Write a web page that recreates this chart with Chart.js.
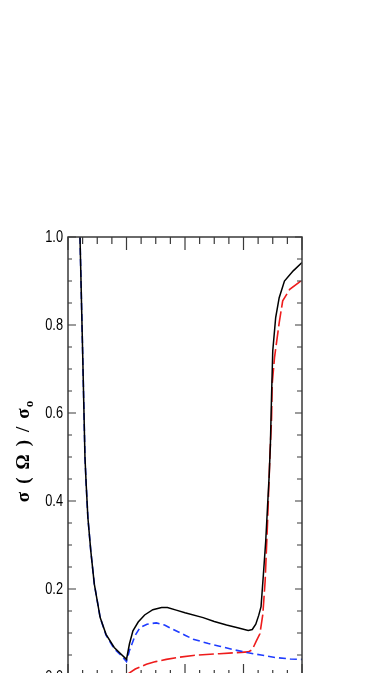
<!DOCTYPE html>
<html>
<head>
<meta charset="utf-8">
<script src="https://cdn.jsdelivr.net/npm/chart.js@4/dist/chart.umd.min.js"></script>
<style>
  html, body { margin: 0; padding: 0; background: #fff; overflow: hidden; }
  #wrap { position: relative; width: 375px; height: 700px; }
</style>
</head>
<body>
<div id="wrap"><canvas id="c"></canvas></div>
<script>
// ---- data ----
const yTickValues = [0, 0.2, 0.4, 0.6, 0.8, 1.0];

const xBlack = [0.205, 0.25, 0.29, 0.31, 0.34, 0.39, 0.45, 0.55, 0.65, 0.79, 0.9, 1.0, 1.05, 1.11, 1.2, 1.31, 1.45, 1.6, 1.7, 1.85, 2.0, 2.31, 2.5, 2.71, 2.9, 3.08, 3.15, 3.21, 3.26, 3.30, 3.34, 3.38, 3.41, 3.44, 3.46, 3.48, 3.50, 3.55, 3.61, 3.70, 3.85, 4.0];
const yBlack = [1.0, 0.74, 0.50, 0.44, 0.362, 0.286, 0.211, 0.135, 0.097, 0.067, 0.053, 0.040, 0.075, 0.105, 0.125, 0.141, 0.153, 0.158, 0.158, 0.152, 0.146, 0.135, 0.126, 0.118, 0.112, 0.106, 0.108, 0.120, 0.140, 0.160, 0.233, 0.309, 0.385, 0.461, 0.53, 0.642, 0.741, 0.817, 0.862, 0.900, 0.923, 0.942];

const xBlue = [0.205, 0.25, 0.29, 0.31, 0.34, 0.39, 0.45, 0.55, 0.65, 0.79, 0.9, 1.0, 1.05, 1.09, 1.15, 1.23, 1.35, 1.51, 1.65, 1.8, 2.0, 2.14, 2.4, 2.59, 2.8, 3.08, 3.3, 3.56, 3.8, 4.0];
const yBlue = [1.0, 0.74, 0.50, 0.44, 0.362, 0.286, 0.211, 0.135, 0.095, 0.064, 0.050, 0.035, 0.060, 0.074, 0.095, 0.112, 0.120, 0.123, 0.118, 0.108, 0.095, 0.086, 0.076, 0.070, 0.063, 0.055, 0.050, 0.044, 0.041, 0.040];

const xRed = [1.0, 1.15, 1.34, 1.5, 1.68, 1.9, 2.14, 2.59, 3.08, 3.15, 3.22, 3.28, 3.33, 3.37, 3.41, 3.45, 3.48, 3.49, 3.53, 3.61, 3.67, 3.79, 3.98, 4.0];
const yRed = [0.005, 0.018, 0.029, 0.035, 0.040, 0.045, 0.049, 0.053, 0.057, 0.062, 0.082, 0.098, 0.142, 0.218, 0.347, 0.498, 0.589, 0.665, 0.726, 0.805, 0.855, 0.881, 0.900, 0.902];

const yTitleParts = ['σ', '(', 'Ω', ')', '/', 'σ'];
const yTitleSub = 'o';

function pts(xs, ys) { return xs.map((x, i) => ({ x: x, y: ys[i] })); }

const framePlugin = {
  id: 'frame',
  afterDraw(chart) {
    const ctx = chart.ctx;
    const a = chart.chartArea;
    const xs = chart.scales.x, ys = chart.scales.y;
    ctx.save();
    ctx.strokeStyle = '#3a3a3a';
    ctx.lineWidth = 1.5;
    ctx.strokeRect(a.left, a.top, a.right - a.left, a.bottom - a.top);
    ctx.lineWidth = 1.2;
    ctx.beginPath();
    for (let i = 0; i <= 20; i++) {
      const v = i * 0.05;
      const y = ys.getPixelForValue(v);
      const major = i % 4 === 0;
      ctx.moveTo(a.left, y); ctx.lineTo(a.left + (major ? 8 : 4), y);
      ctx.moveTo(a.right, y); ctx.lineTo(a.right - (major ? 7 : 5), y);
    }
    for (let i = 0; i <= 16; i++) {
      const v = i * 0.25;
      const x = xs.getPixelForValue(v);
      const major = i % 4 === 0;
      ctx.moveTo(x, a.top); ctx.lineTo(x, a.top + (major ? 13 : 7));
      ctx.moveTo(x, a.bottom); ctx.lineTo(x, a.bottom - (major ? 13 : 7));
    }
    ctx.stroke();

    // condensed y tick labels
    ctx.fillStyle = '#000';
    ctx.textAlign = 'right';
    ctx.textBaseline = 'middle';
    ctx.font = '16px "Liberation Sans", Arial, sans-serif';
    yTickValues.forEach(v => {
      const y = ys.getPixelForValue(v);
      ctx.save();
      ctx.translate(63, y + 0.5);
      ctx.scale(0.8, 1);
      ctx.fillText(v.toFixed(1), 0, 0);
      ctx.restore();
    });

    // rotated y-axis title
    ctx.textAlign = 'left';
    ctx.translate(29, 448);
    ctx.rotate(-Math.PI / 2);
    const big = 'bold 19px "Liberation Serif", "DejaVu Serif", serif';
    const small = 'bold 13px "Liberation Serif", "DejaVu Serif", serif';
    const gap = 8;
    ctx.font = big;
    let total = 0;
    yTitleParts.forEach(p => { total += ctx.measureText(p).width + gap; });
    ctx.font = small;
    total += ctx.measureText(yTitleSub).width;
    let x = -total / 2;
    ctx.textBaseline = 'alphabetic';
    ctx.font = big;
    yTitleParts.forEach(p => { ctx.fillText(p, x, 0); x += ctx.measureText(p).width + gap; });
    x -= gap - 1;
    ctx.font = small;
    ctx.fillText(yTitleSub, x, 4);
    ctx.restore();
  }
};

new Chart(document.getElementById('c'), {
  type: 'line',
  data: {
    datasets: [
      { data: pts(xBlack, yBlack), borderColor: '#000', borderWidth: 1.5, pointRadius: 0, tension: 0, fill: false },
      { data: pts(xBlue, yBlue), borderColor: '#1f3cff', borderWidth: 1.6, borderDash: [7, 4], pointRadius: 0, tension: 0, fill: false },
      { data: pts(xRed, yRed), borderColor: '#ee1c1c', borderWidth: 1.6, borderDash: [15, 4], pointRadius: 0, tension: 0, fill: false }
    ]
  },
  options: {
    responsive: true,
    maintainAspectRatio: false,
    animation: false,
    layout: { padding: { top: 237, right: 73, bottom: 23, left: 0 } },
    plugins: { legend: { display: false }, tooltip: { enabled: false } },
    scales: {
      x: { type: 'linear', min: 0, max: 4, display: false },
      y: {
        type: 'linear', min: 0, max: 1,
        afterFit(scale) { scale.width = 68; },
        afterBuildTicks(scale) { scale.ticks = yTickValues.map(v => ({ value: v })); },
        grid: { display: false, drawTicks: false },
        border: { display: false },
        ticks: { display: false }
      }
    }
  },
  plugins: [framePlugin]
});
</script>
</body>
</html>
